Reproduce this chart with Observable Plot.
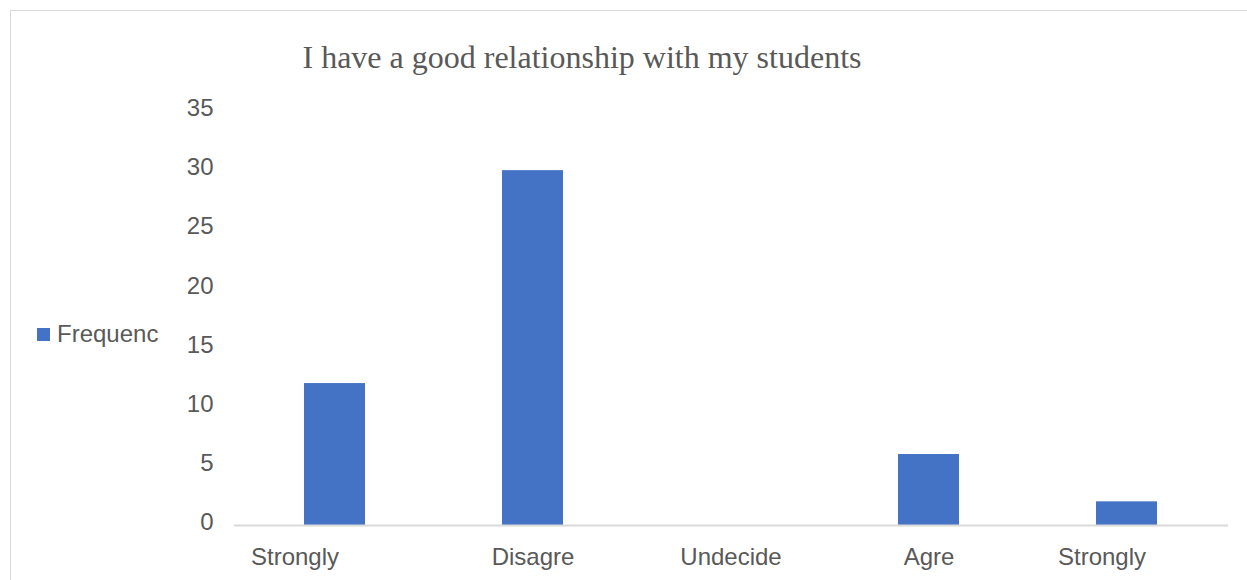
<!DOCTYPE html>
<html>
<head>
<meta charset="utf-8">
<script src="https://cdn.jsdelivr.net/npm/d3@7"></script>
<script src="https://cdn.jsdelivr.net/npm/@observablehq/plot@0.6"></script>
<style>
  html, body { margin: 0; padding: 0; background: #fff; }
  #wrap { position: relative; width: 1247px; height: 580px; overflow: hidden; }
  #frame { position: absolute; left: 10px; top: 10px; width: 1260px; height: 600px; border: 1.5px solid #d9d9d9; box-sizing: border-box; }
  #title { position: absolute; left: 0; width: 1164px; top: 39px; text-align: center; font-family: "Liberation Serif", "Times New Roman", serif; font-size: 32px; color: #595959; white-space: nowrap; }
  #legend { position: absolute; left: 37px; top: 320px; font-family: "Liberation Sans", Arial, sans-serif; font-size: 24px; color: #595959; display: flex; align-items: center; white-space: nowrap; }
  #legend .sw { width: 13px; height: 13px; background: #4472C4; margin-right: 7px; }
  #chart { position: absolute; left: 0; top: 0; }
</style>
</head>
<body>
<div id="wrap">
  <div id="frame"></div>
  <div id="chart"></div>
  <div id="title">I have a good relationship with my students</div>
  <div id="legend"><div class="sw"></div><span>Frequenc</span></div>
</div>
<script>
const categories = ["Strongly Disagree", "Disagree", "Undecided", "Agree", "Strongly Agree"];
const tickLabels = ["Strongly", "Disagre", "Undecide", "Agre", "Strongly"];
const frequency = [12, 30, 0, 6, 2];
const yTicks = [0, 5, 10, 15, 20, 25, 30, 35];
const seriesName = "Frequenc";

const data = categories.map((c, i) => ({category: c, value: frequency[i]}));
const fmt = (d) => tickLabels[categories.indexOf(d)];
const axisStyle = {tickSize: 0, tickPadding: 22, label: null, fill: "#595959", fontSize: 24, tickFormat: fmt};

const chart = Plot.plot({
  width: 1247,
  height: 580,
  marginLeft: 234,
  marginRight: 19,
  marginTop: 111,
  marginBottom: 55,
  style: {fontFamily: "'Liberation Sans', Arial, sans-serif", fontSize: "24px", color: "#595959", background: "transparent", overflow: "visible"},
  x: {domain: categories, paddingInner: 0.69, paddingOuter: 0.345, align: 0.5},
  y: {domain: [0, 35]},
  marks: [
    Plot.barY(data, {x: "category", y: "value", fill: "#4472C4"}),
    Plot.ruleY([0], {stroke: "#d9d9d9", strokeWidth: 2}),
    Plot.axisY({ticks: yTicks, tickSize: 0, tickPadding: 21, label: null, fill: "#595959", fontSize: 24, dy: -3}),
    Plot.axisX({...axisStyle, ticks: categories.slice(1, -1)}),
    Plot.axisX({...axisStyle, ticks: categories.slice(0, 1), dx: -40}),
    Plot.axisX({...axisStyle, ticks: categories.slice(-1), dx: -25})
  ]
});
document.getElementById("chart").appendChild(chart);
</script>
</body>
</html>
